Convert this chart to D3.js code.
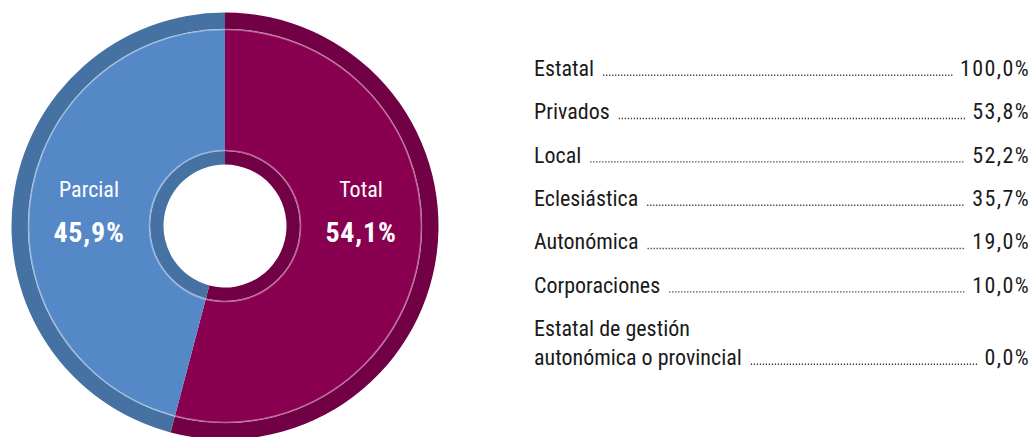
<!DOCTYPE html>
<html>
<head>
<meta charset="utf-8">
<script src="https://cdn.jsdelivr.net/npm/d3@7"></script>
<style>
  body { margin: 0; background: #fff; }
  text { font-family: "Liberation Sans Narrow", "Roboto Condensed", "Arial Narrow", sans-serif; }
</style>
</head>
<body>
<div id="chart"></div>
<script>
// donut data
var slices = ["Total", "Parcial"];
var sliceValues = [54.1, 45.9];
var sliceLabels = ["54,1%", "45,9%"];

// list on the right
var rowNames = ["Estatal", "Privados", "Local", "Eclesiástica", "Autonómica", "Corporaciones", "Estatal de gestión\nautonómica o provincial"];
var rowValues = [100.0, 53.8, 52.2, 35.7, 19.0, 10.0, 0.0];

(function() {
  var width = 1033, height = 437;
  var cx = 225, cy = 226;

  var svg = d3.select("#chart")
    .append("svg")
    .attr("width", width)
    .attr("height", height);

  var mainColor = d3.scaleOrdinal().domain(slices).range(["#8a0050", "#5588c7"]);
  var darkColor = d3.scaleOrdinal().domain(slices).range(["#710044", "#4571a3"]);

  var pie = d3.pie().sort(null).value(function(d) { return d.value; });
  var data = slices.map(function(s, i) { return { name: s, value: sliceValues[i], label: sliceLabels[i] }; });
  var arcs = pie(data);

  var g = svg.append("g").attr("transform", "translate(" + cx + "," + cy + ")");

  var outerBand = d3.arc().innerRadius(197).outerRadius(213.5);
  var mainBand = d3.arc().innerRadius(75).outerRadius(197);
  var innerBand = d3.arc().innerRadius(61.5).outerRadius(75);

  g.selectAll(".outer").data(arcs).enter().append("path")
    .attr("d", outerBand)
    .attr("fill", function(d) { return darkColor(d.data.name); });

  g.selectAll(".main").data(arcs).enter().append("path")
    .attr("d", mainBand)
    .attr("fill", function(d) { return mainColor(d.data.name); });

  g.selectAll(".inner").data(arcs).enter().append("path")
    .attr("d", innerBand)
    .attr("fill", function(d) { return darkColor(d.data.name); });

  // thin light rings
  [196.5, 75.5].forEach(function(r) {
    g.append("circle")
      .attr("r", r)
      .attr("fill", "none")
      .attr("stroke", "#fff")
      .attr("stroke-opacity", 0.4)
      .attr("stroke-width", 1.6);
  });

  // slice labels, placed left/right of the hole
  var labelX = 136;
  arcs.forEach(function(d) {
    var mid = (d.startAngle + d.endAngle) / 2;
    var x = Math.sin(mid) >= 0 ? labelX : -labelX;
    g.append("text")
      .attr("x", x)
      .attr("y", -29)
      .attr("text-anchor", "middle")
      .attr("fill", "#fff")
      .style("font-size", "22px")
      .text(d.data.name);
    g.append("text")
      .attr("x", x)
      .attr("y", 16)
      .attr("text-anchor", "middle")
      .attr("fill", "#fff")
      .style("font-size", "28px")
      .style("font-weight", "bold")
      .style("letter-spacing", "0.8px")
      .text(d.data.label);
  });

  // right-hand list with dotted leaders
  var listLeft = 534, listRight = 1030;
  var yScale = d3.scalePoint().domain(rowNames).range([76, 336]);
  var fmt = function(v) { return d3.format(".1f")(v).replace(".", ",") + "%"; };

  rowNames.forEach(function(name, i) {
    var lines = name.split("\n");
    var y0 = yScale(name);
    var lastY = y0 + (lines.length - 1) * 29;

    var t = svg.append("text")
      .attr("x", listLeft)
      .attr("fill", "#1a1a1a")
      .style("font-size", "22px");
    lines.forEach(function(l, j) {
      t.append("tspan").attr("x", listLeft).attr("y", y0 + j * 29).text(l);
    });

    var v = svg.append("text")
      .attr("x", listRight)
      .attr("y", lastY)
      .attr("text-anchor", "end")
      .attr("fill", "#1a1a1a")
      .style("font-size", "22px")
      .style("letter-spacing", "1.4px")
      .text(fmt(rowValues[i]));

    var lastSpan = t.selectAll("tspan").nodes()[lines.length - 1];
    var x1 = listLeft + lastSpan.getComputedTextLength() + 9;
    var x2 = listRight - v.node().getComputedTextLength() - 7;

    svg.append("line")
      .attr("x1", x1)
      .attr("x2", x2)
      .attr("y1", lastY - 0.8)
      .attr("y2", lastY - 0.8)
      .attr("stroke", "#333")
      .attr("stroke-width", 1.4)
      .attr("stroke-dasharray", "1.2,1.8");
  });
})();
</script>
</body>
</html>
